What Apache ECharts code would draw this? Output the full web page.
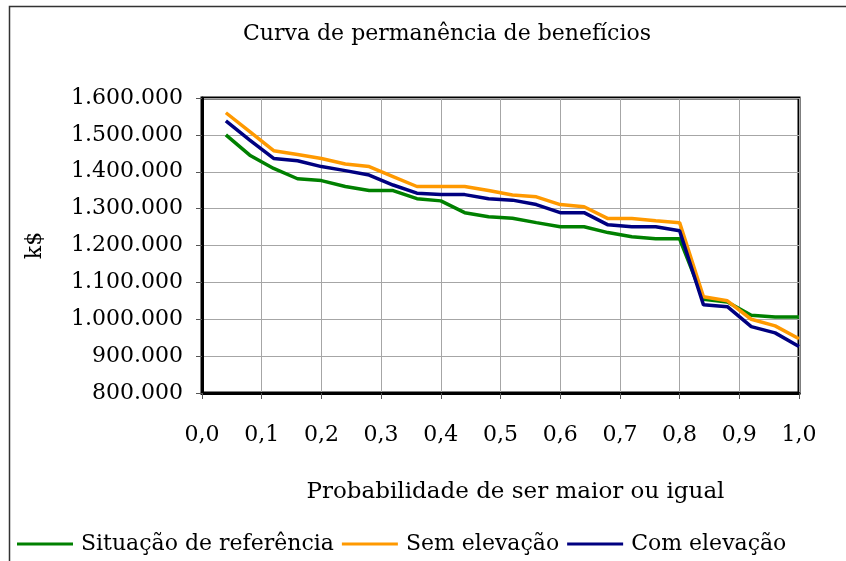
<!DOCTYPE html>
<html>
<head>
<meta charset="utf-8">
<script src="https://cdn.jsdelivr.net/npm/echarts@6/dist/echarts.min.js"></script>
<style>
  html, body { margin: 0; padding: 0; background: #fff; }
  #chart { width: 846px; height: 561px; }
</style>
</head>
<body>
<div id="chart"></div>
<script>
// probabilidade (eixo x)
const probs = [0.04, 0.08, 0.12, 0.16, 0.20, 0.24, 0.28, 0.32, 0.36, 0.40,
               0.44, 0.48, 0.52, 0.56, 0.60, 0.64, 0.68, 0.72, 0.76, 0.80,
               0.84, 0.88, 0.92, 0.96, 1.00];

// k$
const situacaoRef = [1500000, 1445000, 1409000, 1381000, 1376000, 1360000, 1349000, 1349000, 1327000, 1321000,
                     1289000, 1278000, 1274000, 1262000, 1251000, 1251000, 1235000, 1224000, 1218000, 1218000,
                     1054000, 1047000, 1011000, 1006000, 1006000];
const semElevacao = [1560000, 1509000, 1457000, 1447000, 1436000, 1421000, 1414000, 1387000, 1360000, 1360000,
                     1360000, 1349000, 1337000, 1332000, 1311000, 1305000, 1273000, 1273000, 1267000, 1262000,
                     1061000, 1050000, 1000000, 982000, 947000];
const comElevacao = [1538000, 1486000, 1436000, 1430000, 1414000, 1403000, 1391000, 1364000, 1342000, 1338000,
                     1338000, 1327000, 1323000, 1311000, 1289000, 1289000, 1256000, 1251000, 1251000, 1240000,
                     1039000, 1034000, 980000, 963000, 926000];

const seriesNames = ["Situação de referência", "Sem elevação", "Com elevação"];
const seriesColors = ["#008000", "#FF9900", "#000080"];

const pairs = (ys) => ys.map((v, i) => [probs[i], v]);

const fmtThousands = (v) => String(Math.round(v)).replace(/\B(?=(\d{3})+(?!\d))/g, ".");

const font = "DejaVu Serif";

const chart = echarts.init(document.getElementById("chart"));

const option = {
  backgroundColor: "#fff",
  animation: false,
  textStyle: { fontFamily: font, color: "#000" },
  title: {
    text: "Curva de permanência de benefícios",
    left: 442,
    textAlign: "center",
    top: 18,
    textStyle: { fontFamily: font, fontSize: 22, fontWeight: "normal", color: "#000" }
  },
  graphic: [
    {
      type: "rect",
      shape: { x: 9.5, y: 6.5, width: 900, height: 700 },
      style: { fill: "none", stroke: "#333", lineWidth: 1.5 },
      silent: true
    }
  ],
  legend: {
    data: seriesNames,
    left: 12,
    bottom: 1,
    itemWidth: 56,
    itemHeight: 3,
    itemGap: 8,
    icon: "rect",
    textStyle: { fontFamily: font, fontSize: 22, color: "#000", padding: [0, 0, 0, 3] }
  },
  grid: {
    left: 202,
    right: 47,
    top: 98,
    bottom: 168,
    show: true,
    borderColor: "#000",
    borderWidth: 3,
    containLabel: false
  },
  xAxis: {
    type: "value",
    min: 0,
    max: 1,
    interval: 0.1,
    name: "Probabilidade de ser maior ou igual",
    nameLocation: "middle",
    nameGap: 88,
    nameTextStyle: { fontFamily: font, fontSize: 23, color: "#000", padding: [0, 0, 0, 30] },
    axisLine: { show: true, onZero: false, lineStyle: { color: "#000", width: 3 } },
    axisTick: { show: true, length: 6, lineStyle: { color: "#555", width: 1 } },
    axisLabel: {
      margin: 31,
      fontFamily: font,
      fontSize: 22,
      color: "#000",
      formatter: (v) => v.toFixed(1).replace(".", ",")
    },
    splitLine: { show: true, lineStyle: { color: "#a6a6a6", width: 1 } }
  },
  yAxis: {
    type: "value",
    min: 800000,
    max: 1600000,
    interval: 100000,
    name: "k$",
    nameLocation: "middle",
    nameGap: 156,
    nameRotate: 90,
    nameTextStyle: { fontFamily: font, fontSize: 22, color: "#000" },
    axisLine: { show: true, lineStyle: { color: "#000", width: 3 } },
    axisTick: { show: true, length: 6, lineStyle: { color: "#555", width: 1 } },
    axisLabel: {
      margin: 19,
      fontFamily: font,
      fontSize: 22,
      color: "#000",
      formatter: fmtThousands
    },
    splitLine: { show: true, lineStyle: { color: "#a6a6a6", width: 1 } }
  },
  series: [
    { name: seriesNames[0], data: pairs(situacaoRef) },
    { name: seriesNames[1], data: pairs(semElevacao) },
    { name: seriesNames[2], data: pairs(comElevacao) }
  ].map((s, i) => ({
    ...s,
    type: "line",
    showSymbol: false,
    symbol: "none",
    color: seriesColors[i],
    lineStyle: { color: seriesColors[i], width: 3.5 },
    z: 2 + i
  }))
};

chart.setOption(option);
</script>
</body>
</html>
